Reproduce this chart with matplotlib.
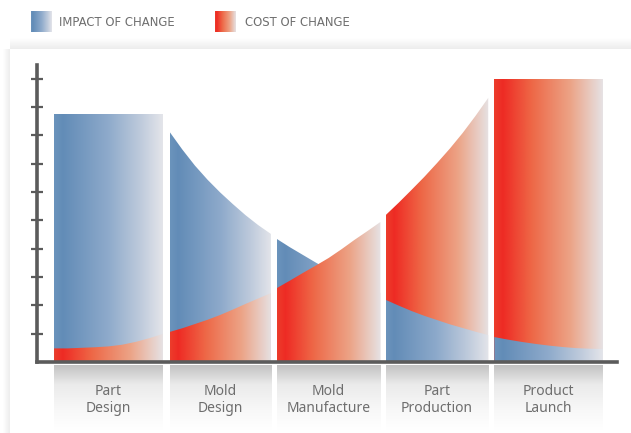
import numpy as np
import matplotlib
matplotlib.use('Agg')
import matplotlib.pyplot as plt
from matplotlib.colors import LinearSegmentedColormap
from matplotlib.patches import Polygon

# stages along the product cycle
stages = ['Part\nDesign', 'Mold\nDesign', 'Mold\nManufacture', 'Part\nProduction', 'Product\nLaunch']

# curve heights read at 9 evenly spaced points across each column
impact = [
    [8.75, 8.75, 8.75, 8.75, 8.75, 8.75, 8.75, 8.75, 8.75],
    [8.12, 7.50, 6.93, 6.43, 5.98, 5.57, 5.18, 4.83, 4.52],
    [4.34, 4.05, 3.78, 3.51, 3.25, 3.01, 2.79, 2.60, 2.44],
    [2.19, 1.99, 1.80, 1.63, 1.48, 1.33, 1.20, 1.07, 0.95],
    [0.88, 0.79, 0.71, 0.64, 0.58, 0.53, 0.49, 0.47, 0.46],
]
cost = [
    [0.48, 0.48, 0.50, 0.52, 0.55, 0.61, 0.71, 0.84, 0.99],
    [1.06, 1.19, 1.34, 1.49, 1.66, 1.85, 2.05, 2.24, 2.43],
    [2.61, 2.87, 3.14, 3.40, 3.67, 3.98, 4.31, 4.62, 4.94],
    [5.19, 5.62, 6.07, 6.53, 7.02, 7.53, 8.08, 8.68, 9.32],
    [10.0, 10.0, 10.0, 10.0, 10.0, 10.0, 10.0, 10.0, 10.0],
]
# which series is painted in front in each column
front = ['cost', 'cost', 'cost', 'impact', 'impact']

y_ticks = list(range(1, 11))

# layout
pos = [0.65, 1.665, 2.65, 3.635, 4.65]
widths = [0.99, 0.92, 0.94, 0.93, 0.99]
axis_grey = '#5b5b5b'
text_grey = '#6e6e6e'

blue_cmap = LinearSegmentedColormap.from_list(
    'impact', [(0, '#6b94bc'), (0.08, '#628cb7'), (0.5, '#8eaacb'), (0.8, '#bfcbdc'), (1, '#e4e5ea')])
red_cmap = LinearSegmentedColormap.from_list(
    'cost', [(0, '#ec3d2c'), (0.08, '#ee2b24'), (0.35, '#ee6847'), (0.7, '#eca386'), (1, '#e6e2e4')])
strip_cmap = LinearSegmentedColormap.from_list(
    'strip', [(0, '#c2c2c2'), (0.3, '#ebebeb'), (0.7, '#f8f8f8'), (1, '#ffffff')])

hgrad = np.linspace(0, 1, 256).reshape(1, -1)
vgrad = np.linspace(0, 1, 128).reshape(-1, 1)

fig = plt.figure(figsize=(6.31, 4.33), dpi=100)

# soft card shadow behind the chart
bg = fig.add_axes([0, 0, 1, 1], zorder=-5)
bg.set_xlim(0, 631)
bg.set_ylim(433, 0)
bg.axis('off')
shadow = LinearSegmentedColormap.from_list('shadow', ['#ffffff', '#ededed'])
bg.imshow(np.linspace(0, 1, 32).reshape(-1, 1), cmap=shadow, extent=[10, 631, 49, 38], aspect='auto')
bg.imshow(np.linspace(0, 1, 32).reshape(1, -1), cmap=shadow, extent=[3, 10, 433, 49], aspect='auto')

ax = fig.add_axes([37 / 631, 71 / 433, 580 / 631, 297 / 433])
ax.set_facecolor('none')

for i in range(len(stages)):
    x0 = pos[i] - widths[i] / 2
    x1 = pos[i] + widths[i] / 2
    xs = np.linspace(x0, x1, len(impact[i]))
    layers = [('impact', impact[i], blue_cmap), ('cost', cost[i], red_cmap)]
    layers.sort(key=lambda l: l[0] == front[i])
    for z, (key, vals, cmap) in enumerate(layers):
        verts = np.column_stack([np.r_[xs, xs[::-1]], np.r_[vals, np.zeros(len(xs))]])
        patch = Polygon(verts, closed=True, facecolor='none', edgecolor='none')
        ax.add_patch(patch)
        im = ax.imshow(hgrad, cmap=cmap, extent=[x0, x1, 0, max(vals)], aspect='auto',
                       zorder=2 + z, interpolation='bilinear')
        im.set_clip_path(patch)

    # grey label strip under the column
    strip = ax.imshow(vgrad, cmap=strip_cmap, extent=[x0, x1, -2.4, -0.12], aspect='auto',
                      interpolation='bilinear', zorder=1)
    strip.set_clip_on(False)
    ax.text(pos[i], -1.33, stages[i], ha='center', va='center', fontsize=10,
            color=text_grey, family='Noto Sans', linespacing=1.15, zorder=5)

ax.set_xlim(0, 5.27)
ax.set_ylim(0, 10.48)

for side in ['top', 'right']:
    ax.spines[side].set_visible(False)
for side in ['left', 'bottom']:
    ax.spines[side].set_color(axis_grey)
    ax.spines[side].set_linewidth(2.6)
    ax.spines[side].set_zorder(6)
ax.set_xticks([])
ax.set_yticks(y_ticks)
ax.tick_params(axis='y', direction='inout', length=8, width=1.6, color=axis_grey, labelleft=False)

# legend
for x0, cmap, label, tx in [(31, blue_cmap, 'IMPACT OF CHANGE', 59), (215, red_cmap, 'COST OF CHANGE', 245)]:
    sw = fig.add_axes([x0 / 631, 1 - 32 / 433, 21 / 631, 21 / 433])
    sw.imshow(hgrad, cmap=cmap, aspect='auto', interpolation='bilinear')
    sw.axis('off')
    fig.text(tx / 631, 1 - 22 / 433, label, ha='left', va='center', fontsize=8.4,
             color=text_grey, family='DejaVu Sans')

fig.savefig('out.png', dpi=100, facecolor='white')
